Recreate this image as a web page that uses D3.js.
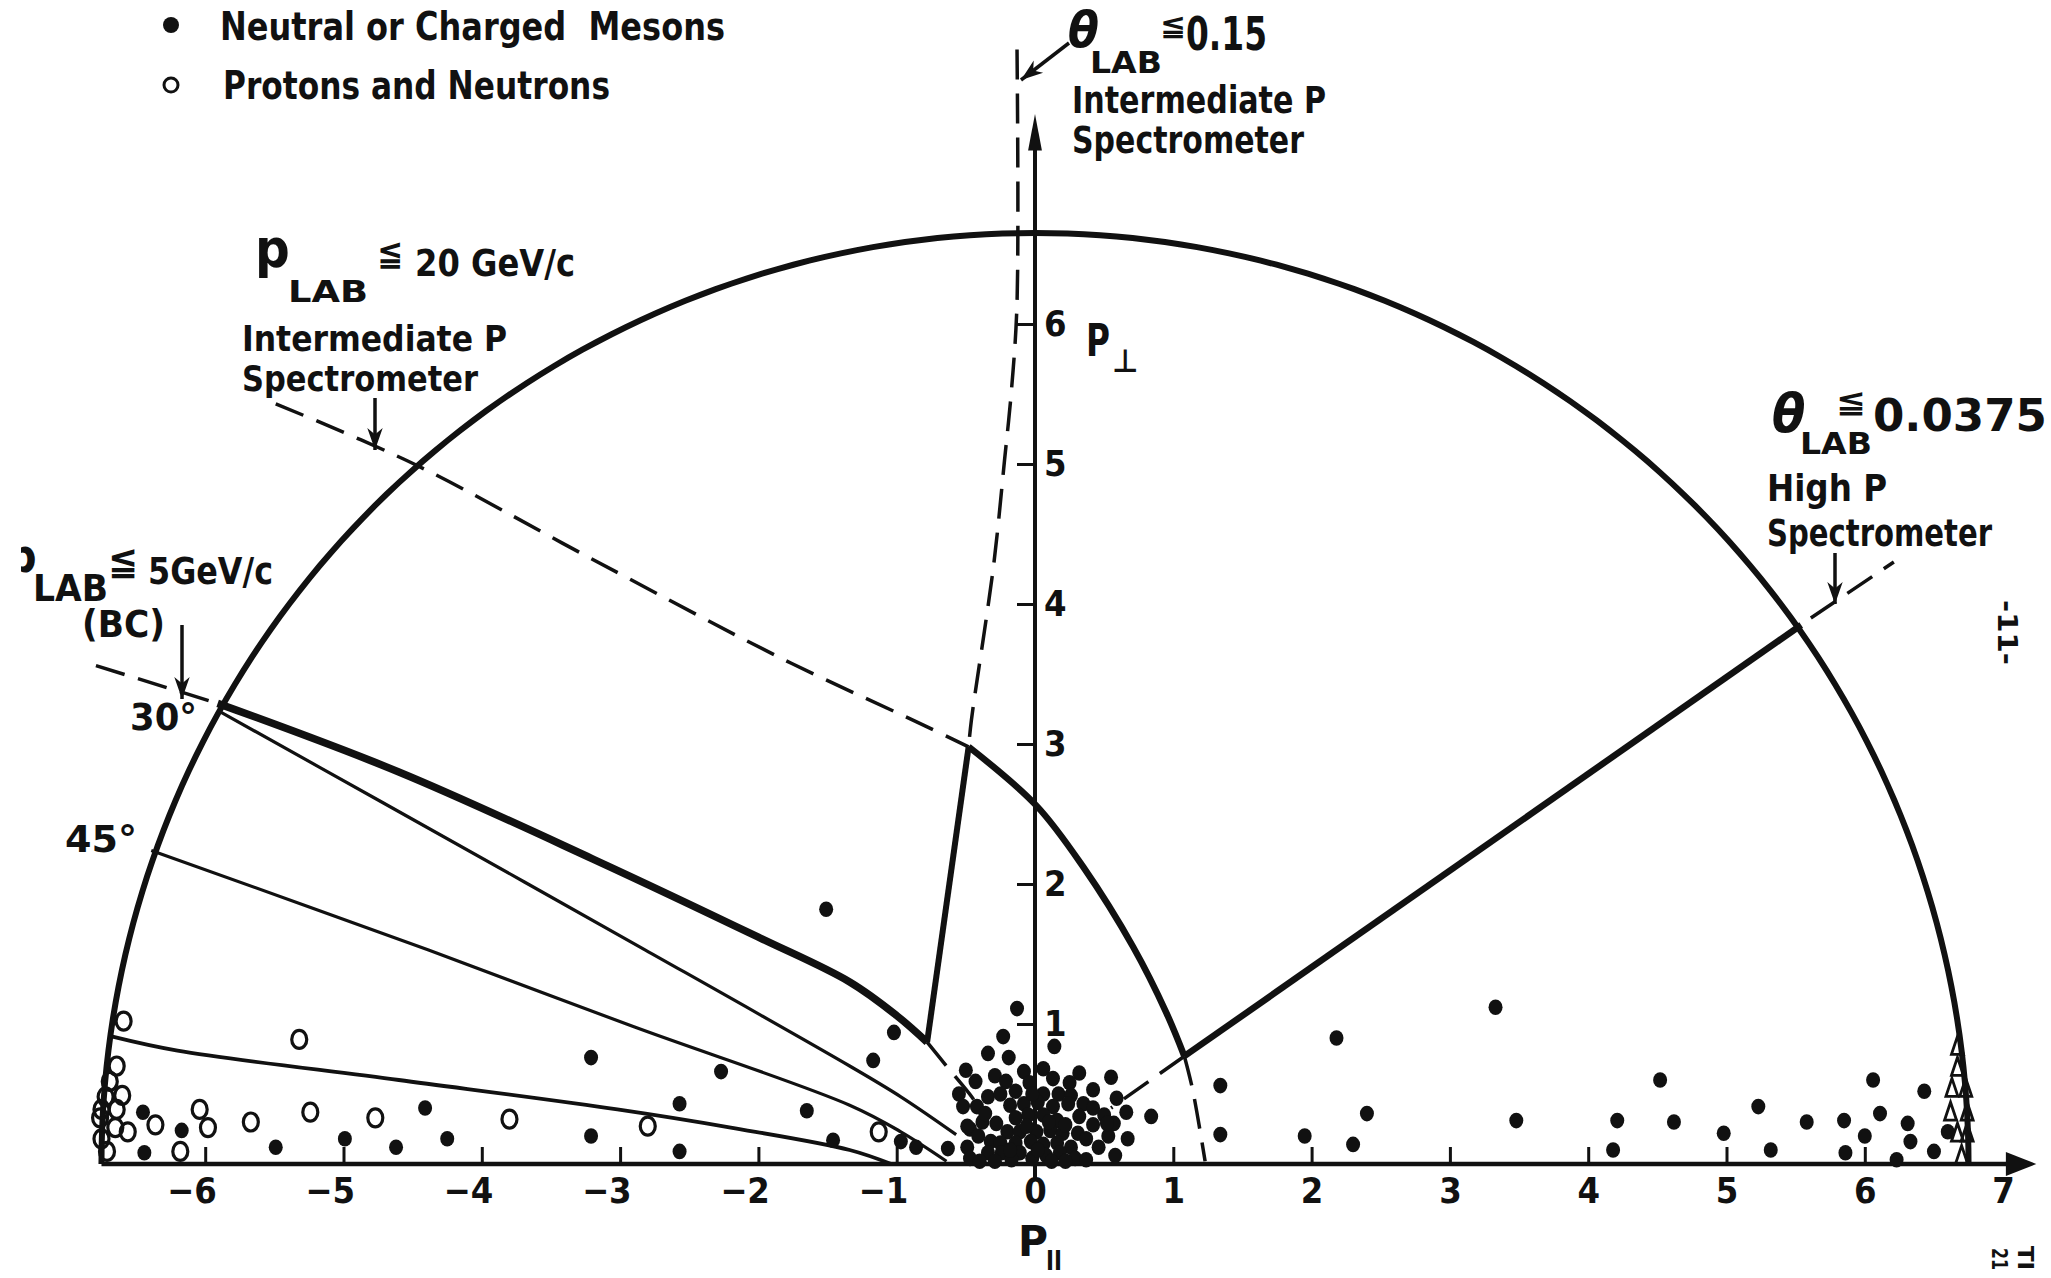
<!DOCTYPE html>
<html>
<head>
<meta charset="utf-8">
<script src="https://cdn.jsdelivr.net/npm/d3@7"></script>
<style>
  body { margin: 0; background: #fff; }
  svg text { font-family: "DejaVu Sans Condensed", "DejaVu Sans", sans-serif; font-weight: bold; fill: #111; }
</style>
</head>
<body>
<div id="chart"></div>
<script>
// ---- values (P_parallel, P_perp in GeV/c) ----
const xTickValues = [-6, -5, -4, -3, -2, -1, 0, 1, 2, 3, 4, 5, 6, 7];
const yTickValues = [1, 2, 3, 4, 5, 6];
const outerRadius = [6.75, 6.65];   // kinematic limit, semicircle

// p_LAB <= 20 GeV/c curve (dashed outside, solid inside, dashed to axis)
const pLab20Outer = [[-5.49, 5.43], [-4.49, 5.0], [-3.22, 4.33], [-1.81, 3.6], [-0.86, 3.16], [-0.48, 2.98]];
const pLab20Solid = [[-0.48, 2.98], [0.01, 2.56], [0.35, 2.12], [0.71, 1.55], [0.95, 1.08], [1.08, 0.77]];
const pLab20Tail = [[1.08, 0.77], [1.14, 0.53], [1.23, 0.02]];

// p_LAB <= 5 GeV/c (bubble chamber) curve
const pLab5Outer = [[-6.79, 3.56], [-5.91, 3.29]];
const pLab5Solid = [[-5.91, 3.29], [-4.6, 2.8], [-3.2, 2.18], [-2.0, 1.62], [-1.34, 1.3], [-1.0, 1.06], [-0.78, 0.87]];
const pLab5Tail = [[-0.78, 0.87], [-0.64, 0.7], [-0.45, 0.47], [-0.38, 0.36]];

// lab angle curves 30 deg, 45 deg and the lowest one
const angle30 = [[-5.91, 3.24], [-4.75, 2.6], [-2.82, 1.53], [-1.34, 0.7], [-0.97, 0.48], [-0.57, 0.21]];
const angle45 = [[-6.39, 2.24], [-4.39, 1.53], [-2.9, 0.98], [-1.34, 0.42], [-0.97, 0.23], [-0.64, 0.02]];
const angleLow = [[-6.67, 0.91], [-6.2, 0.81], [-4.6, 0.6], [-3.02, 0.39], [-2.2, 0.26], [-1.34, 0.1], [-1.04, 0.0]];

// theta_LAB <= 0.15 line
const theta015Dashed = [[-0.13, 7.96], [-0.13, 6.15], [-0.17, 5.53], [-0.22, 5.03], [-0.30, 4.27], [-0.46, 3.17], [-0.48, 2.98]];
const theta015Solid = [[-0.48, 2.98], [-0.78, 0.87]];

// theta_LAB <= 0.0375 line
const theta0375Solid = [[1.08, 0.77], [5.54, 3.85]];
const theta0375Out = [[5.61, 3.9], [6.21, 4.3]];
const theta0375In = [[1.08, 0.77], [0.55, 0.4]];

// neutral or charged mesons
const mesons = [
  [-1.51, 1.82], [-1.02, 0.94], [-1.17, 0.74], [-3.21, 0.76], [-2.27, 0.66], [-2.57, 0.43], [-1.65, 0.38],
  [-4.41, 0.40], [-3.21, 0.20], [-2.57, 0.09], [-4.25, 0.18], [-4.62, 0.12], [-4.99, 0.18], [-5.49, 0.12],
  [-6.17, 0.24], [-6.44, 0.08], [-6.45, 0.37], [-1.46, 0.17], [-0.97, 0.16], [-0.86, 0.12], [-0.63, 0.11],
  // central cluster
  [-0.13, 1.11], [-0.23, 0.91], [-0.34, 0.79], [-0.19, 0.76], [0.14, 0.84], [0.06, 0.68], [-0.08, 0.66],
  [-0.50, 0.67], [-0.43, 0.59], [-0.29, 0.63], [-0.21, 0.59], [-0.04, 0.58], [0.13, 0.61], [0.32, 0.65],
  [0.25, 0.58], [0.55, 0.62], [0.42, 0.53], [-0.55, 0.50], [-0.34, 0.48], [-0.25, 0.50], [-0.14, 0.52],
  [0.06, 0.50], [0.17, 0.50], [0.26, 0.49], [0.59, 0.47], [-0.52, 0.41], [-0.42, 0.41], [-0.18, 0.42],
  [-0.08, 0.43], [0.02, 0.44], [0.13, 0.41], [0.24, 0.43], [0.35, 0.43], [0.50, 0.35], [0.57, 0.29],
  [0.66, 0.37], [-0.38, 0.30], [-0.28, 0.29], [-0.14, 0.33], [-0.05, 0.35], [0.06, 0.35], [0.16, 0.31],
  [0.32, 0.34], [0.42, 0.28], [-0.47, 0.25], [-0.41, 0.20], [-0.20, 0.23], [-0.11, 0.23], [0.01, 0.23],
  [0.11, 0.24], [0.20, 0.22], [0.31, 0.22], [0.53, 0.20], [0.67, 0.18], [-0.49, 0.12], [-0.32, 0.16],
  [-0.25, 0.15], [-0.14, 0.15], [-0.03, 0.16], [0.06, 0.14], [0.16, 0.15], [0.26, 0.12], [0.46, 0.12],
  [-0.47, 0.04], [-0.34, 0.08], [-0.24, 0.08], [-0.11, 0.08], [0.08, 0.06], [0.18, 0.08], [0.29, 0.04],
  [0.37, 0.03], [0.58, 0.06], [-0.17, 0.03], [-0.40, 0.02], [-0.02, 0.04], [0.52, 0.29], [-0.49, 0.27],
  [-0.36, 0.36], [-0.06, 0.27], [0.10, 0.30], [0.22, 0.28], [0.37, 0.18], [-0.18, 0.10], [0.02, 0.10],
  [0.12, 0.02], [0.22, 0.02], [-0.29, 0.02], [0.42, 0.40], [-0.02, 0.50],
  // forward side
  [3.33, 1.12], [2.18, 0.90], [1.34, 0.56], [0.84, 0.34], [1.34, 0.21], [1.95, 0.20], [2.30, 0.14],
  [2.40, 0.36], [3.48, 0.31], [4.21, 0.31], [4.18, 0.10], [4.52, 0.60], [4.62, 0.30], [4.98, 0.22],
  [5.23, 0.41], [5.32, 0.10], [5.58, 0.30], [5.85, 0.31], [6.06, 0.60], [6.11, 0.36], [6.00, 0.20],
  [5.86, 0.08], [6.23, 0.03], [6.31, 0.29], [6.33, 0.16], [6.43, 0.52], [6.50, 0.09], [6.60, 0.23]
];

// protons and neutrons
const nucleons = [
  [-6.59, 1.02], [-5.32, 0.89], [-6.64, 0.70], [-6.69, 0.59], [-6.72, 0.48], [-6.60, 0.49], [-6.75, 0.39],
  [-6.64, 0.39], [-6.76, 0.33], [-6.65, 0.26], [-6.56, 0.23], [-6.75, 0.18], [-6.71, 0.09], [-6.36, 0.28],
  [-6.04, 0.39], [-5.98, 0.26], [-6.18, 0.09], [-5.67, 0.30], [-5.24, 0.37], [-4.77, 0.33], [-3.80, 0.32],
  [-2.80, 0.27], [-1.13, 0.23]
];

// triangles along the forward edge
const triangles = [[6.67, 0.84], [6.67, 0.69], [6.63, 0.54], [6.73, 0.54], [6.62, 0.37], [6.74, 0.37],
  [6.67, 0.22], [6.74, 0.22], [6.70, 0.06]];

// ---- canvas ----
const width = 2051, height = 1278;
const svg = d3.select("#chart").append("svg")
  .attr("width", width).attr("height", height)
  .style("display", "block");

const x = d3.scaleLinear().domain([-7, 7]).range([1035 - 7 * 138.3, 1035 + 7 * 138.3]);
const y = d3.scaleLinear().domain([0, 8]).range([1164, 1164 - 8 * 140]);

const defs = svg.append("defs");
defs.append("marker").attr("id", "ah")
  .attr("viewBox", "0 0 10 10").attr("refX", 10).attr("refY", 5)
  .attr("markerWidth", 22).attr("markerHeight", 22)
  .attr("markerUnits", "userSpaceOnUse").attr("orient", "auto")
  .append("path").attr("d", "M0,1.5 L10,5 L0,8.5 L3,5 Z").attr("fill", "#111");
defs.append("clipPath").attr("id", "pclip")
  .append("rect").attr("x", 21).attr("y", 500).attr("width", 60).attr("height", 100);

const ink = "#111";
const line = d3.line().x(d => x(d[0])).y(d => y(d[1])).curve(d3.curveCatmullRom);

function curve(data, w, dashed) {
  svg.append("path").datum(data)
    .attr("d", line)
    .attr("fill", "none")
    .attr("stroke", ink)
    .attr("stroke-width", w)
    .attr("stroke-linecap", "butt")
    .attr("stroke-dasharray", dashed ? "30,14" : null);
}

// outer semicircle
const semi = d3.range(0, 181).map(a => [outerRadius[0] * Math.cos(a * Math.PI / 180), outerRadius[1] * Math.sin(a * Math.PI / 180)]);
svg.append("path").datum(semi)
  .attr("d", d3.line().x(d => x(d[0])).y(d => y(d[1])))
  .attr("fill", "none").attr("stroke", ink).attr("stroke-width", 6);

// curves
curve(pLab20Outer, 3.5, true);
curve(pLab20Solid, 6.5, false);
curve(pLab20Tail, 3.5, true);
curve(pLab5Outer, 3.5, true);
curve(pLab5Solid, 7.5, false);
curve(pLab5Tail, 3.5, true);
curve(angle30, 3.2, false);
curve(angle45, 3.2, false);
curve(angleLow, 3.8, false);
curve(theta015Dashed, 3.5, true);
curve(theta015Solid, 6, false);
curve(theta0375Solid, 6.5, false);
curve(theta0375Out, 3.5, true);
curve(theta0375In, 3.5, true);

// ---- axes ----
// x axis
svg.append("line")
  .attr("x1", x(-6.75)).attr("x2", x(7.05)).attr("y1", y(0)).attr("y2", y(0))
  .attr("stroke", ink).attr("stroke-width", 4.5);
svg.append("path")
  .datum([[7.24, 0], [7.02, 0.085], [7.02, -0.085]])
  .attr("d", d => "M" + d.map(p => [x(p[0]), y(p[1])].join(",")).join("L") + "Z")
  .attr("fill", ink);

const xAxis = svg.append("g")
  .attr("transform", `translate(0,${y(0)})`)
  .call(d3.axisBottom(x).tickValues(xTickValues).tickSize(-17).tickPadding(13)
    .tickFormat(d => d < 0 ? "\u2212" + Math.abs(d) : d));
xAxis.select(".domain").remove();
xAxis.selectAll(".tick line").attr("stroke", ink).attr("stroke-width", 3)
  .attr("display", d => (d === 0 || d === 7) ? "none" : null);
xAxis.selectAll(".tick text")
  .attr("font-size", 36).attr("fill", ink)
  .attr("font-family", "DejaVu Sans Condensed").attr("font-weight", "bold")
  .attr("text-anchor", d => d < 0 ? "end" : "middle")
  .attr("x", d => d < 0 ? 11 : 0);

// y axis
svg.append("line")
  .attr("x1", x(0)).attr("x2", x(0)).attr("y1", y(-0.12)).attr("y2", y(7.25))
  .attr("stroke", ink).attr("stroke-width", 4);
svg.append("path")
  .datum([[0, 7.5], [0.05, 7.24], [-0.05, 7.24]])
  .attr("d", d => "M" + d.map(p => [x(p[0]), y(p[1])].join(",")).join("L") + "Z")
  .attr("fill", ink);

const yAxis = svg.append("g")
  .attr("transform", `translate(${x(0)},0)`)
  .call(d3.axisRight(y).tickValues(yTickValues).tickSize(-18).tickPadding(9));
yAxis.select(".domain").remove();
yAxis.selectAll(".tick line").attr("stroke", ink).attr("stroke-width", 3);
yAxis.selectAll(".tick text").attr("font-size", 36).attr("fill", ink)
  .attr("font-family", "DejaVu Sans Condensed").attr("font-weight", "bold");

// ---- points ----
svg.append("g").selectAll("ellipse").data(mesons).join("ellipse")
  .attr("cx", d => x(d[0])).attr("cy", d => y(d[1]))
  .attr("rx", 7).attr("ry", 7.8)
  .attr("fill", ink);

svg.append("g").selectAll("ellipse").data(nucleons).join("ellipse")
  .attr("cx", d => x(d[0])).attr("cy", d => y(d[1]))
  .attr("rx", 7.5).attr("ry", 9)
  .attr("fill", "none").attr("stroke", ink).attr("stroke-width", 3.2);

svg.append("g").selectAll("path").data(triangles).join("path")
  .attr("transform", d => `translate(${x(d[0])},${y(d[1])})`)
  .attr("d", "M0,-10 L6,8 L-6,8 Z")
  .attr("fill", "none").attr("stroke", ink).attr("stroke-width", 2.8);

// ---- text ----
function label(txt, px, py, size, len, extra) {
  const t = svg.append("text").attr("x", px).attr("y", py).attr("font-size", size)
    .attr("xml:space", "preserve").text(txt);
  if (len) t.attr("textLength", len).attr("lengthAdjust", "spacingAndGlyphs");
  if (extra) extra(t);
  return t;
}
function arrow(x1, y1, x2, y2) {
  svg.append("line").attr("x1", x1).attr("y1", y1).attr("x2", x2).attr("y2", y2)
    .attr("stroke", ink).attr("stroke-width", 3.5).attr("marker-end", "url(#ah)");
}
const oblique = t => t.attr("font-style", "italic").attr("font-weight", "normal").attr("font-family", "DejaVu Sans");

// legend
svg.append("circle").attr("cx", 171).attr("cy", 25).attr("r", 8).attr("fill", ink);
label("Neutral or Charged\u00a0\u00a0Mesons", 220, 40, 39, 505);
svg.append("circle").attr("cx", 171).attr("cy", 85).attr("r", 7).attr("fill", "none").attr("stroke", ink).attr("stroke-width", 3);
label("Protons and Neutrons", 223, 99, 39, 387);

// theta_LAB <= 0.15
label("\u03b8", 1068, 47, 50, null, oblique);
label("LAB", 1090, 73, 30, 72);
label("\u2266", 1160, 35, 30, 26);
label("0.15", 1186, 50, 46, 81);
label("Intermediate P", 1072, 113, 37, 254);
label("Spectrometer", 1072, 153, 37, 232);
arrow(1069, 43, 1021, 80);

// p_LAB <= 20 GeV/c
label("p", 255, 267, 54);
label("LAB", 288, 302, 30, 80);
label("\u2266", 377, 265, 36, 26);
label("20 GeV/c", 415, 276, 38, 160);
label("Intermediate P", 242, 351, 36, 265);
label("Spectrometer", 242, 391, 36, 236);
arrow(375, 398, 375, 450);

// p_LAB <= 5 GeV/c (BC)
label("p", 7, 572, 46, null, t => t.attr("clip-path", "url(#pclip)"));
label("LAB", 33, 601, 38, 75);
label("\u2266", 108, 574, 40, 30);
label("5GeV/c", 148, 584, 38, 125);
label("(BC)", 82, 637, 37, 83);
arrow(182, 625, 182, 699);
label("30\u00b0", 130, 730, 38, 67);
label("45\u00b0", 65, 852, 38, 72);

// theta_LAB <= 0.0375
label("\u03b8", 1772, 432, 54, null, oblique);
label("LAB", 1800, 454, 30, 72);
label("\u2266", 1836, 412, 32, 30);
label("0.0375", 1873, 431, 44, 174);
label("High P", 1767, 501, 38, 120);
label("Spectrometer", 1767, 546, 38, 225);
arrow(1835, 553, 1835, 604);

// axis titles
label("P", 1018, 1256, 42, 30);
label("II", 1046, 1270, 26, 16);
label("P", 1086, 356, 44, 24);
label("\u22a5", 1112, 372, 32);

// page marks
label("-11-", 0, 0, 26, 65, t => t.attr("transform", "translate(1998,600) rotate(90)")
  .attr("font-family", "Liberation Mono").attr("font-weight", "normal"));
label("TI", 0, 0, 22, 24, t => t.attr("transform", "translate(2018,1246) rotate(90)")
  .attr("font-family", "Liberation Serif").attr("font-weight", "normal"));
label("21", 0, 0, 22, 22, t => t.attr("transform", "translate(1992,1248) rotate(90)")
  .attr("font-family", "Liberation Serif").attr("font-weight", "normal"));
</script>
</body>
</html>
